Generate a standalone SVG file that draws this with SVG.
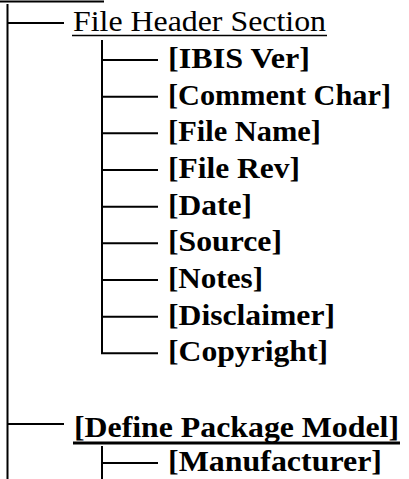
<svg xmlns="http://www.w3.org/2000/svg" width="409" height="479" viewBox="0 0 409 479">
<style>
.c line{stroke:#000;stroke-width:2;fill:none}
.r{font-family:"Liberation Serif","Times New Roman",serif;font-size:30px;fill:#000}
.b{font-family:"Liberation Serif","Times New Roman",serif;font-size:30px;font-weight:bold;fill:#000}
.u{stroke:#000}
</style>
<rect width="409" height="479" fill="#fff"/>
<g id="connectors" class="c">
<line x1="0" y1="1.5" x2="104" y2="1.5" style="stroke-width:2"/>
<line x1="7.5" y1="4" x2="7.5" y2="479"/>
<line x1="7.5" y1="23" x2="64" y2="23"/>
<line x1="102" y1="40" x2="102" y2="354"/>
<line x1="102" y1="60" x2="158" y2="60"/>
<line x1="102" y1="96.7" x2="158" y2="96.7"/>
<line x1="102" y1="133.3" x2="158" y2="133.3"/>
<line x1="102" y1="170" x2="158" y2="170"/>
<line x1="102" y1="206.7" x2="158" y2="206.7"/>
<line x1="102" y1="243.3" x2="158" y2="243.3"/>
<line x1="102" y1="280" x2="158" y2="280"/>
<line x1="102" y1="316.7" x2="158" y2="316.7"/>
<line x1="101" y1="353.3" x2="158" y2="353.3"/>
<line x1="7.5" y1="424" x2="64" y2="424"/>
<line x1="102" y1="446" x2="102" y2="479"/>
<line x1="102" y1="463" x2="158" y2="463"/>
</g>
<g id="file-header-section">
<text class="r" x="73" y="31" textLength="253" lengthAdjust="spacingAndGlyphs">File Header Section</text>
<line class="u" x1="72" y1="35.5" x2="327" y2="35.5" stroke-width="1.5"/>
</g>
<g id="ibis-ver"><text class="b" x="168" y="68" textLength="142" lengthAdjust="spacingAndGlyphs">[IBIS Ver]</text></g>
<g id="comment-char"><text class="b" x="168" y="104.7" textLength="223" lengthAdjust="spacingAndGlyphs">[Comment Char]</text></g>
<g id="file-name"><text class="b" x="168" y="141.3" textLength="153" lengthAdjust="spacingAndGlyphs">[File Name]</text></g>
<g id="file-rev"><text class="b" x="168" y="178" textLength="132" lengthAdjust="spacingAndGlyphs">[File Rev]</text></g>
<g id="date"><text class="b" x="168" y="214.7" textLength="84" lengthAdjust="spacingAndGlyphs">[Date]</text></g>
<g id="source"><text class="b" x="168" y="251.3" textLength="114" lengthAdjust="spacingAndGlyphs">[Source]</text></g>
<g id="notes"><text class="b" x="168" y="288" textLength="95" lengthAdjust="spacingAndGlyphs">[Notes]</text></g>
<g id="disclaimer"><text class="b" x="168" y="324.7" textLength="167" lengthAdjust="spacingAndGlyphs">[Disclaimer]</text></g>
<g id="copyright"><text class="b" x="168" y="361.3" textLength="160" lengthAdjust="spacingAndGlyphs">[Copyright]</text></g>
<g id="define-package-model">
<text class="b" x="74" y="436.5" textLength="325" lengthAdjust="spacingAndGlyphs">[Define Package Model]</text>
<line class="u" x1="73" y1="443" x2="400" y2="443" stroke-width="3"/>
</g>
<g id="manufacturer"><text class="b" x="168" y="471" textLength="214" lengthAdjust="spacingAndGlyphs">[Manufacturer]</text></g>
</svg>
